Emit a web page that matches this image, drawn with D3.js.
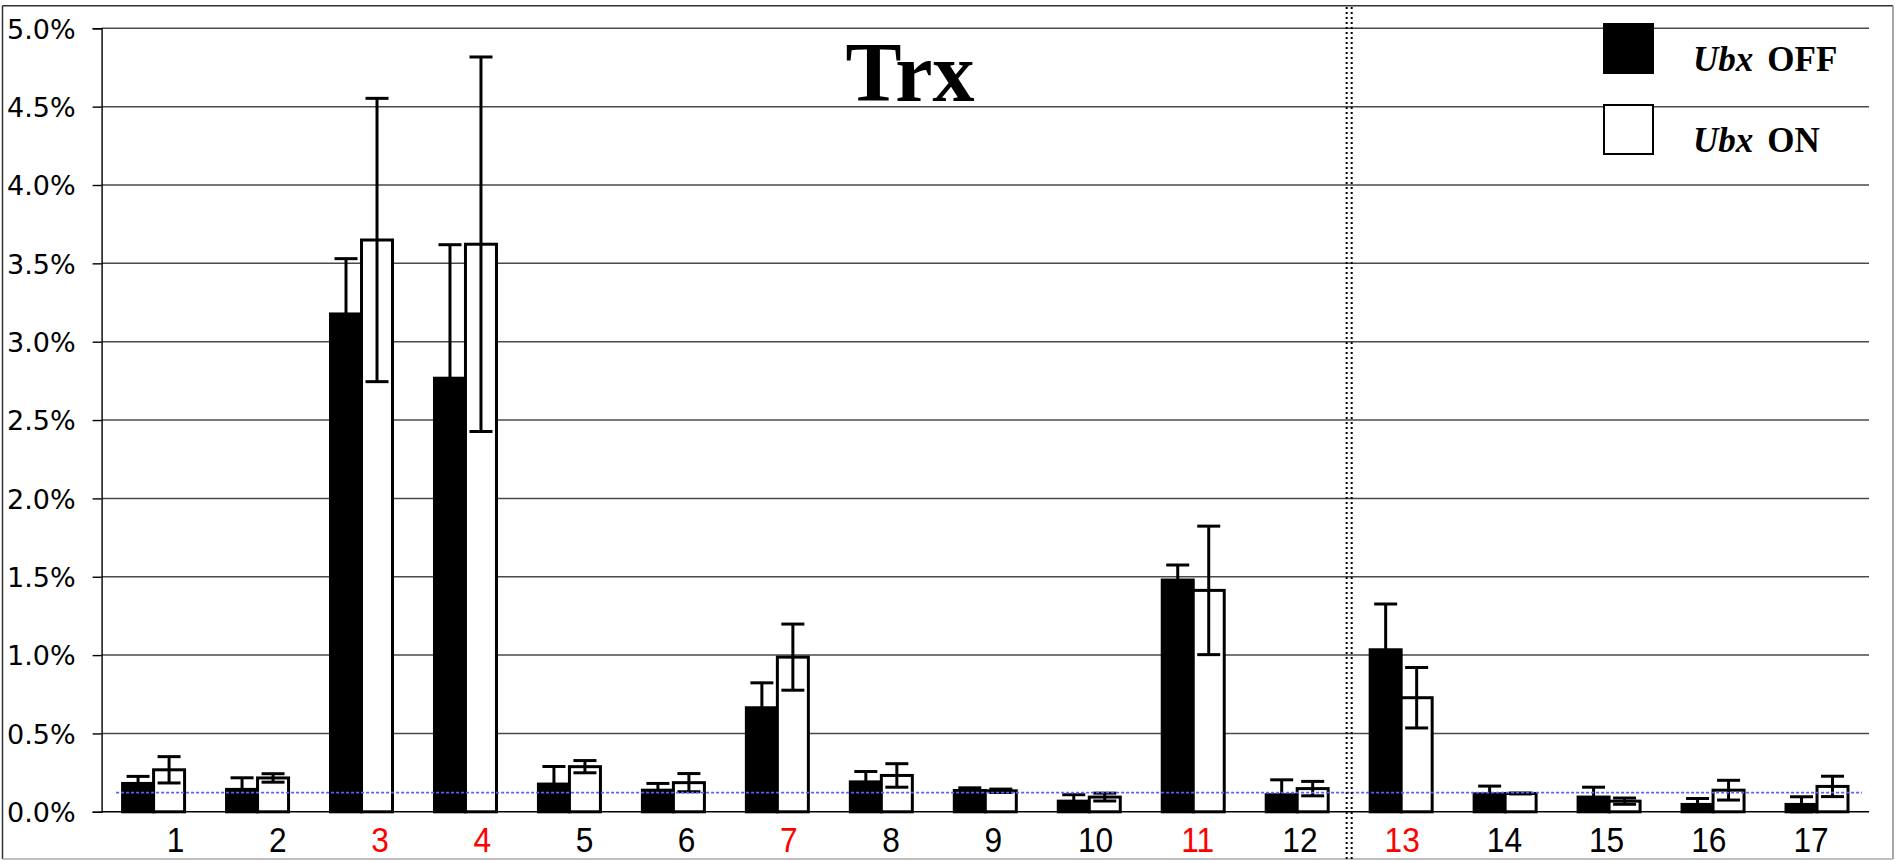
<!DOCTYPE html>
<html>
<head>
<meta charset="utf-8">
<script src="https://cdn.jsdelivr.net/npm/d3@7"></script>
<style>
  html, body { margin: 0; padding: 0; background: #fff; }
  svg { display: block; }
</style>
</head>
<body>
<svg id="chart" width="1896" height="860"></svg>
<script>
// ---- data ----
const categories = ["1","2","3","4","5","6","7","8","9","10","11","12","13","14","15","16","17"];
const highlighted = ["3","4","7","11","13"];
const seriesNames = ["Ubx OFF", "Ubx ON"];
const ubxOff    = [0.181, 0.143, 3.177, 2.767, 0.177, 0.138, 0.664, 0.191, 0.136, 0.068, 1.479, 0.109, 1.034, 0.115, 0.094, 0.047, 0.047];
const ubxOffErr = [0.045, 0.074, 0.353, 0.852, 0.112, 0.043, 0.159, 0.066, 0.017, 0.041, 0.096, 0.095, 0.292, 0.049, 0.063, 0.038, 0.049];
const ubxOn     = [0.268, 0.216, 3.649, 3.622, 0.288, 0.186, 0.987, 0.232, 0.134, 0.094, 1.413, 0.148, 0.728, 0.117, 0.068, 0.138, 0.162];
const ubxOnErr  = [0.084, 0.027, 0.904, 1.195, 0.039, 0.058, 0.211, 0.075, 0.011, 0.025, 0.410, 0.046, 0.193, 0.003, 0.020, 0.063, 0.065];
const yTicks = [0, 0.5, 1.0, 1.5, 2.0, 2.5, 3.0, 3.5, 4.0, 4.5, 5.0];
const baselineLevel = 0.123;
const dividerBefore = "13";
const title = "Trx";

// ---- layout ----
const svg = d3.select("#chart");
const plotLeft = 101.6, plotRight = 1869, plotTop = 28.3, plotBottom = 811.8;

const x = d3.scaleBand().domain(categories).range([plotLeft, plotRight]).paddingInner(0).paddingOuter(0);
const bw = x.bandwidth();
const inner = d3.scaleBand().domain(seriesNames).range([0, bw]).paddingInner(0).paddingOuter(0.677);
const y = d3.scaleLinear().domain([0, 5]).range([plotBottom, plotTop]);
const labelX = d3.scalePoint().domain(categories)
  .range([x(categories[0]) + bw / 2 + 22, x(categories[categories.length - 1]) + bw / 2 - 6]);

// frame
svg.append("line").attr("x1", 2.5).attr("x2", 1893).attr("y1", 5.7).attr("y2", 5.7).attr("stroke", "#333").attr("stroke-width", 1.5);
svg.append("line").attr("x1", 2.5).attr("x2", 2.5).attr("y1", 5.7).attr("y2", 859).attr("stroke", "#333").attr("stroke-width", 1.5);
svg.append("line").attr("x1", 1893).attr("x2", 1893).attr("y1", 5.7).attr("y2", 859).attr("stroke", "#888").attr("stroke-width", 1.5);
svg.append("line").attr("x1", 2.5).attr("x2", 1893).attr("y1", 859).attr("y2", 859).attr("stroke", "#aaa").attr("stroke-width", 1.5);

// gridlines
svg.append("g").selectAll("line").data(yTicks.filter(d => d > 0)).join("line")
  .attr("x1", plotLeft).attr("x2", plotRight)
  .attr("y1", d => y(d)).attr("y2", d => y(d))
  .attr("stroke", "#4a4a4a").attr("stroke-width", 1.5);

// y axis
const yAxis = d3.axisLeft(y).tickValues(yTicks).tickFormat(d => d.toFixed(1) + "%").tickSize(9).tickPadding(17);
const ya = svg.append("g").attr("transform", `translate(${plotLeft},0)`).call(yAxis);
ya.select(".domain").attr("stroke", "#000").attr("stroke-width", 1.4);
ya.selectAll(".tick line").attr("stroke", "#000").attr("stroke-width", 1.4);
ya.selectAll(".tick text").attr("font-family", "'DejaVu Sans', Verdana, sans-serif").attr("font-size", 27).attr("fill", "#000").attr("dy", "0.36em");

// x axis baseline
svg.append("line").attr("x1", plotLeft).attr("x2", plotRight).attr("y1", y(0)).attr("y2", y(0))
  .attr("stroke", "#000").attr("stroke-width", 1.6);

// bars
const groups = categories.map((c, i) => ({
  c,
  vals: [
    { s: seriesNames[0], v: ubxOff[i], e: ubxOffErr[i] },
    { s: seriesNames[1], v: ubxOn[i], e: ubxOnErr[i] }
  ]
}));

const g = svg.append("g").selectAll("g").data(groups).join("g")
  .attr("transform", d => `translate(${x(d.c)},0)`);

g.selectAll("rect").data(d => d.vals).join("rect")
  .attr("x", d => inner(d.s))
  .attr("width", inner.bandwidth())
  .attr("y", d => y(d.v))
  .attr("height", d => y(0) - y(d.v))
  .attr("fill", d => d.s === seriesNames[0] ? "#000" : "#fff")
  .attr("stroke", "#000").attr("stroke-width", 3);

const capW = 23;
const eb = g.selectAll("g.err").data(d => d.vals).join("g").attr("class", "err")
  .attr("stroke", "#000").attr("stroke-width", 3);
eb.append("line")
  .attr("x1", d => inner(d.s) + inner.bandwidth() / 2).attr("x2", d => inner(d.s) + inner.bandwidth() / 2)
  .attr("y1", d => y(d.v + d.e)).attr("y2", d => y(Math.max(0, d.v - d.e)));
eb.append("line")
  .attr("x1", d => inner(d.s) + inner.bandwidth() / 2 - capW / 2).attr("x2", d => inner(d.s) + inner.bandwidth() / 2 + capW / 2)
  .attr("y1", d => y(d.v + d.e)).attr("y2", d => y(d.v + d.e));
eb.append("line")
  .attr("x1", d => inner(d.s) + inner.bandwidth() / 2 - capW / 2).attr("x2", d => inner(d.s) + inner.bandwidth() / 2 + capW / 2)
  .attr("y1", d => y(Math.max(0, d.v - d.e))).attr("y2", d => y(Math.max(0, d.v - d.e)));

// blue reference line
svg.append("line")
  .attr("x1", plotLeft + 14.5).attr("x2", plotRight - 7)
  .attr("y1", y(baselineLevel)).attr("y2", y(baselineLevel))
  .attr("stroke", "#5f5ff5").attr("stroke-width", 1.8).attr("stroke-dasharray", "3,2");

// divider (double dotted)
const divX = x(dividerBefore);
[-2.5, 2.5].forEach(off => {
  svg.append("line").attr("x1", divX + off).attr("x2", divX + off).attr("y1", 7).attr("y2", 859)
    .attr("stroke", "#000").attr("stroke-width", 2).attr("stroke-dasharray", "2,3");
});

// category labels
svg.append("g").selectAll("text").data(categories).join("text")
  .attr("transform", d => `translate(${labelX(d)},852) scale(0.88,1)`)
  .attr("text-anchor", "middle")
  .attr("font-family", "'Liberation Sans', Arial, sans-serif").attr("font-size", 36)
  .attr("fill", d => highlighted.includes(d) ? "#ff0000" : "#000")
  .text(d => d);

// title
svg.append("text").attr("x", 910).attr("y", 101).attr("text-anchor", "middle")
  .attr("font-family", "'Liberation Serif', 'Times New Roman', serif").attr("font-weight", "bold").attr("font-size", 84)
  .text(title);

// legend
const legend = svg.append("g").selectAll("g").data(seriesNames).join("g")
  .attr("transform", (d, i) => `translate(1604,${24 + i * 81})`);
legend.append("rect").attr("x", 0).attr("y", 0).attr("width", 49).attr("height", 49)
  .attr("fill", (d, i) => i === 0 ? "#000" : "#fff").attr("stroke", "#000").attr("stroke-width", 2);
const lt = legend.append("text").attr("x", 89).attr("y", 47)
  .attr("font-family", "'Liberation Serif', 'Times New Roman', serif").attr("font-weight", "bold").attr("font-size", 35);
lt.append("tspan").attr("font-style", "italic").text(d => d.split(" ")[0]);
lt.append("tspan").attr("dx", 14).text(d => d.split(" ")[1]);
</script>
</body>
</html>
